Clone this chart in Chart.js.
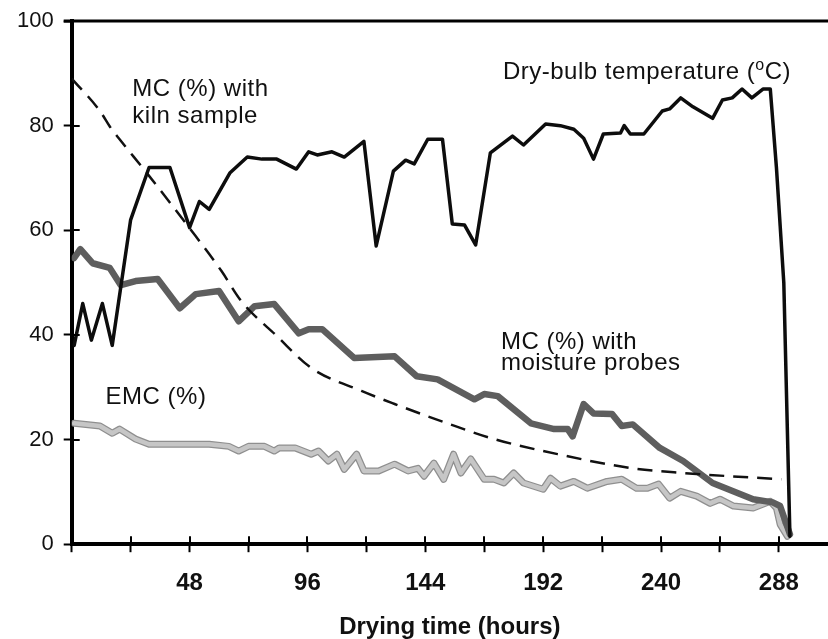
<!DOCTYPE html>
<html>
<head>
<meta charset="utf-8">
<title>Kiln drying</title>
<script src="https://cdn.jsdelivr.net/npm/chart.js@4.4.0/dist/chart.umd.min.js"></script>
<style>
  html, body { margin: 0; padding: 0; background: #fff; }
  #wrap { width: 828px; height: 639px; position: relative; }
</style>
</head>
<body>
<div id="wrap"><canvas id="kilnChart"></canvas></div>
<script>
// Dry-bulb temperature (°C)
const dryBulbHours = [1, 4.5, 8, 12.5, 16.5, 24, 31.5, 40, 48, 52, 56, 64.5, 71.5, 77.5, 83.5, 91.5, 96.5, 100, 106, 111,
  119, 124, 131, 136, 139.5, 145, 151, 155, 160, 164.5, 170.5, 179.5, 184, 193, 199, 204.5, 208.5, 212.5, 216.5, 223.5,
  225, 227.5, 233, 240.5, 243.5, 248, 253, 261, 265, 269, 273, 277, 281.5, 284.5, 287, 290, 292.5];
const dryBulbTemp = [38, 46, 39, 46, 38, 62, 72, 72, 60.5, 65.5, 64, 71, 74, 73.6, 73.6, 71.7, 75, 74.4, 75, 74,
  77, 57, 71.3, 73.4, 72.7, 77.4, 77.4, 61.2, 61, 57.2, 74.8, 78, 76.3, 80.3, 80, 79.3, 77.6, 73.6, 78.4, 78.6,
  80, 78.4, 78.4, 82.8, 83.2, 85.3, 83.6, 81.4, 84.9, 85.3, 87, 85.3, 87, 87, 72, 50, 1.5];

// MC (%) with kiln sample (dashed)
const kilnHours = [0, 11.5, 16, 19.5, 31.5, 48, 61, 69, 83.5, 97.5, 118, 131.5, 153, 172, 198, 228.5, 249, 289];
const kilnMC = [89, 82.8, 79.5, 77.4, 70.4, 60.4, 52.2, 46.5, 39.8, 33.7, 29.3, 26.8, 23.1, 20.1, 17.2, 14.5, 13.6, 12.4];

// MC (%) with moisture probes
const probeHours = [1, 3.5, 8.5, 15.5, 20, 26, 35, 44, 50.5, 60, 68, 74.5, 82.5, 92.5, 96.5, 102, 115, 131.5, 140.5, 149,
  164, 168, 173.5, 187, 196.5, 202, 204, 208.5, 212.5, 220, 224, 228.5, 239.5, 249, 261, 277.5, 285.5, 288.5, 292.5];
const probeMC = [54.7, 56.4, 53.7, 52.8, 49.5, 50.3, 50.7, 45.1, 47.8, 48.4, 42.6, 45.5, 45.9, 40.3, 41.1, 41.1, 35.6, 35.9, 32.1, 31.5,
  27.7, 28.7, 28.3, 23.1, 22, 22, 20.6, 26.8, 25, 24.9, 22.6, 22.9, 18.4, 15.9, 11.7, 8.6, 8, 7.3, 1.9];

// EMC (%)
const emcHours = [1, 11.5, 16.5, 19.5, 26, 31.5, 56, 64, 68, 72, 78.5, 82.5, 84.5, 91, 97.5, 100.5, 104.5, 108, 111, 116,
  119, 125, 131.5, 137, 141, 143.5, 147.5, 151.5, 155.5, 158.5, 162.5, 168, 172, 176, 180, 184, 192, 195, 199, 204.5,
  210, 218, 224, 230, 234.5, 239, 243.5, 248, 254.5, 260, 264, 269.5, 277.5, 284.5, 287, 288.5, 291.5];
const emcVal = [23.1, 22.6, 21.2, 22, 20.1, 19.1, 19.1, 18.7, 17.8, 18.7, 18.7, 17.8, 18.4, 18.4, 17.2, 17.8, 15.9, 17.2, 14.3, 17.2,
  14, 14, 15.3, 14, 14.5, 13, 15.5, 12.4, 17.2, 13.6, 16.3, 12.4, 12.4, 11.7, 13.6, 11.7, 10.5, 12.6, 11.1, 12,
  10.7, 12, 12.4, 10.7, 10.7, 11.5, 8.8, 10.1, 9.2, 7.8, 8.6, 7.3, 6.9, 8.2, 6.9, 3.8, 1.5];

// labels written on the plot (parts with odd index are superscript), placed in hours / value units
const noteText = [['MC (%) with'], ['kiln sample'], ['Dry-bulb temperature (', 'o', 'C)'], ['MC (%) with'], ['moisture probes'], ['EMC (%)']];
const noteX = [24.7, 24.7, 175.6, 174.8, 174.8, 13.8];
const noteY = [85.7, 80.5, 88.9, 37.3, 33.3, 26.8];

const xTickLabels = [48, 96, 144, 192, 240, 288];

function pts(xs, ys) {
    return xs.map((x, i) => ({ x: x, y: ys[i] }));
}

const fontFam = '"Liberation Sans", Arial, Helvetica, sans-serif';

// top frame line, inner half of the crossing tick marks, and the text notes
const kilnExtras = {
    id: 'kilnExtras',
    afterDraw(chart) {
        const ctx = chart.ctx;
        const xs = chart.scales.x;
        const ys = chart.scales.y;
        const area = chart.chartArea;
        ctx.save();
        ctx.strokeStyle = '#000';
        ctx.lineWidth = 3;
        ctx.beginPath();
        ctx.moveTo(area.left - 8, area.top);
        ctx.lineTo(area.right, area.top);
        ctx.stroke();

        ctx.lineWidth = 2;
        xs.ticks.forEach(t => {
            if (t.value <= 0) return;
            const px = Math.round(xs.getPixelForValue(t.value));
            ctx.beginPath();
            ctx.moveTo(px, area.bottom);
            ctx.lineTo(px, area.bottom - 8);
            ctx.stroke();
        });
        ys.ticks.forEach(t => {
            if (t.value <= 0 || t.value >= 100) return;
            const py = Math.round(ys.getPixelForValue(t.value));
            ctx.beginPath();
            ctx.moveTo(area.left, py);
            ctx.lineTo(area.left + 8, py);
            ctx.stroke();
        });

        ctx.fillStyle = '#111';
        ctx.textAlign = 'left';
        ctx.textBaseline = 'alphabetic';
        ctx.letterSpacing = '0.5px';
        noteText.forEach((parts, i) => {
            let px = xs.getPixelForValue(noteX[i]);
            const py = ys.getPixelForValue(noteY[i]);
            parts.forEach((p, j) => {
                const sup = j % 2 === 1;
                ctx.font = (sup ? '16px ' : '24px ') + fontFam;
                ctx.fillText(p, px, sup ? py - 9 : py);
                px += ctx.measureText(p).width;
            });
        });
        ctx.restore();
    }
};

document.addEventListener('DOMContentLoaded', function() {
    const lineBase = { pointRadius: 0, fill: false, borderJoinStyle: 'round', borderCapStyle: 'round', tension: 0 };

    new Chart(document.getElementById('kilnChart'), {
        type: 'line',
        data: {
            datasets: [
                Object.assign({}, lineBase, {
                    label: 'Dry-bulb temperature (°C)',
                    data: pts(dryBulbHours, dryBulbTemp),
                    borderColor: '#0d0d0d',
                    borderWidth: 3.5,
                    order: 0
                }),
                Object.assign({}, lineBase, {
                    label: 'MC (%) with kiln sample',
                    data: pts(kilnHours, kilnMC),
                    borderColor: '#111',
                    borderWidth: 2.5,
                    borderDash: [15, 9],
                    borderCapStyle: 'butt',
                    cubicInterpolationMode: 'monotone',
                    order: 1
                }),
                Object.assign({}, lineBase, {
                    label: 'MC (%) with moisture probes',
                    data: pts(probeHours, probeMC),
                    borderColor: '#5e5e5e',
                    borderWidth: 6.5,
                    order: 2
                }),
                Object.assign({}, lineBase, {
                    label: 'EMC (%)',
                    data: pts(emcHours, emcVal),
                    borderColor: '#c6c6c6',
                    borderWidth: 4.5,
                    order: 3
                }),
                Object.assign({}, lineBase, {
                    label: 'EMC (%) edge',
                    data: pts(emcHours, emcVal),
                    borderColor: '#8f8f8f',
                    borderWidth: 7,
                    order: 4
                })
            ]
        },
        options: {
            responsive: true,
            maintainAspectRatio: false,
            animation: false,
            layout: { padding: { left: 7, top: 0, right: 0, bottom: 0 } },
            plugins: {
                legend: { display: false },
                tooltip: { enabled: false }
            },
            scales: {
                x: {
                    type: 'linear',
                    position: 'bottom',
                    min: 0,
                    max: 308,
                    border: { display: true, color: '#000', width: 4 },
                    grid: { drawOnChartArea: false, drawTicks: true, tickLength: 8, tickWidth: 2, tickColor: '#000' },
                    ticks: {
                        stepSize: 24,
                        includeBounds: false,
                        autoSkip: false,
                        maxRotation: 0,
                        padding: 17,
                        color: '#111',
                        font: { family: fontFam, size: 24, weight: 'bold' },
                        callback: v => xTickLabels.includes(v) ? String(v) : ''
                    },
                    title: {
                        display: true,
                        text: 'Drying time (hours)',
                        color: '#111',
                        font: { family: fontFam, size: 24, weight: 'bold', lineHeight: 1 },
                        padding: { top: 0, bottom: 0 }
                    }
                },
                y: {
                    min: 0,
                    max: 100,
                    border: { display: true, color: '#000', width: 4 },
                    grid: { drawOnChartArea: false, drawTicks: true, tickLength: 8, tickWidth: 2, tickColor: '#000' },
                    ticks: {
                        stepSize: 20,
                        padding: 10,
                        color: '#111',
                        font: { family: fontFam, size: 22, lineHeight: 1 }
                    }
                }
            }
        },
        plugins: [kilnExtras]
    });
});
</script>
</body>
</html>
